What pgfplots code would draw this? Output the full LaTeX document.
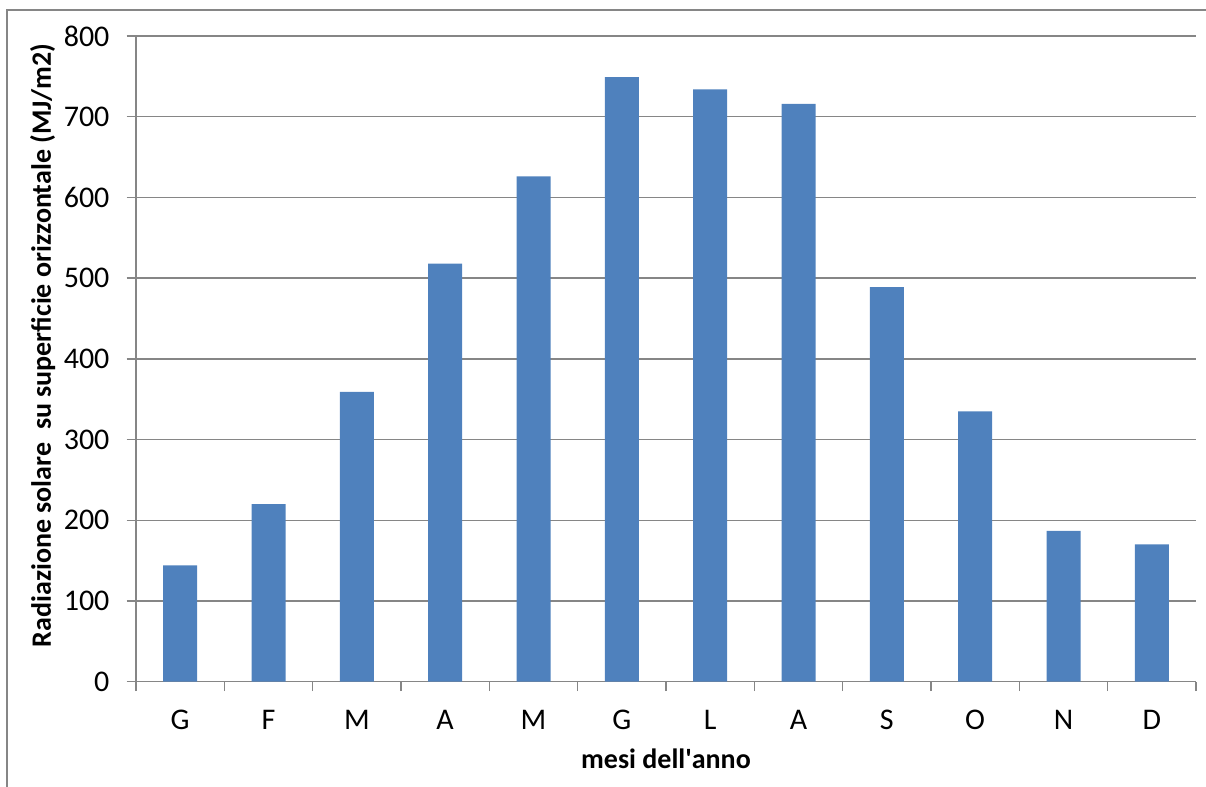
\documentclass[border=0pt]{standalone}
\usepackage{pgfplots}
\pgfplotsset{compat=1.18}
\usepackage{fontspec}
\setmainfont{Carlito}
\definecolor{barblue}{HTML}{4F81BD}
\definecolor{gridgray}{HTML}{868686}

\begin{document}
\begin{tikzpicture}
% page area and outer chart frame
\useasboundingbox (0pt,0pt) rectangle (603pt,393.5pt);
\draw[gridgray, line width=0.7pt] (3.5pt,0pt) -- (3.5pt,388.5pt) -- (603pt,388.5pt);
\begin{axis}[
  at={(68pt,52.65pt)}, anchor=south west,
  scale only axis, width=530pt, height=322.85pt,
  xmin=-0.5, xmax=11.5, ymin=0, ymax=800,
  ybar, bar width=17pt,
  axis x line*=bottom, axis y line*=left,
  axis line style={gridgray, line width=0.65pt},
  tick style={gridgray, line width=0.65pt},
  tick align=outside, major tick length=4.75pt,
  xtick={-0.5,0.5,...,11.5},
  x tick label as interval,
  xticklabels={G,F,M,A,M,G,L,A,S,O,N,D},
  ytick={0,100,...,800},
  ymajorgrids, major grid style={gridgray, line width=0.65pt},
  /pgf/number format/assume math mode=true,
  tick label style={font=\fontsize{15}{18}\selectfont, text=black},
  xticklabel style={yshift=-6pt},
  yticklabel style={xshift=-5pt},
  xlabel={mesi dell\textquotesingle anno},
  ylabel={Radiazione solare\ \ su superficie orizzontale (MJ/m2)},
  label style={font=\fontsize{14}{17}\selectfont\bfseries, text=black},
  xlabel style={at={(axis description cs:0.5,-0.135)}, anchor=base},
  ylabel style={at={(axis description cs:-0.0802,0.521)}, anchor=base},
]
\addplot[fill=barblue, draw=none] coordinates {
  (0,144) (1,220) (2,359) (3,518) (4,626) (5,749)
  (6,734) (7,716) (8,489) (9,335) (10,187) (11,170)
};
\end{axis}
\end{tikzpicture}
\end{document}
